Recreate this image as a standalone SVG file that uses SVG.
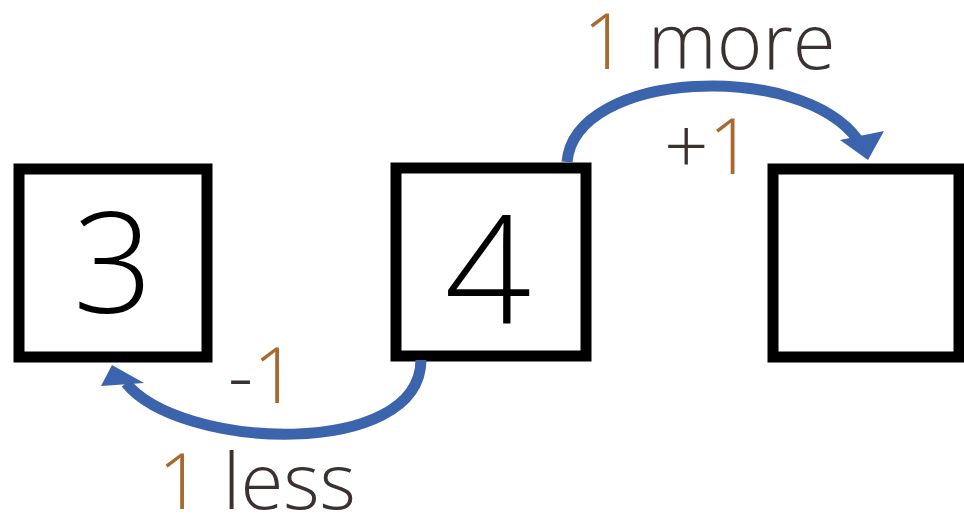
<svg xmlns="http://www.w3.org/2000/svg" width="964" height="517" viewBox="0 0 964 517">
<style>
.box{fill:#fff;stroke:#000;stroke-width:11}
.num{font-family:"Open Sans","Liberation Sans",Arial,sans-serif;font-weight:300;font-size:140px;fill:#000;text-anchor:middle}
.lbl{font-family:"Open Sans","Liberation Sans",Arial,sans-serif;font-weight:300;font-size:78px;fill:#3b3131}
.one{fill:#a8692e}
.arc{fill:none;stroke:#3c64ad;stroke-width:11}
.head{fill:#3c64ad}
</style>
<rect width="964" height="517" fill="#fff"/>
<g id="node-3">
<rect class="box" x="19" y="169" width="188" height="188"/>
<text class="num" x="113" y="313">3</text>
</g>
<g id="node-4">
<rect class="box" x="396" y="168" width="190" height="188"/>
<text class="num" x="488" y="324" style="font-size:152px">4</text>
</g>
<g id="node-empty">
<rect class="box" x="773" y="169" width="186" height="188"/>
</g>
<g id="connectors">
<path class="arc" d="M567,162 C575,70 800,60 858,140"/>
<polygon class="head" points="868,160 840,140 884,131"/>
<path class="arc" d="M421,360 C420,460 180,450 126,383"/>
<polygon class="head" points="112,365 101,386 144,383"/>
</g>
<g id="labels">
<text class="lbl" x="583" y="69"><tspan class="one">1</tspan> more</text>
<text class="lbl" x="664" y="174">+<tspan class="one">1</tspan></text>
<text class="lbl" x="228" y="403">-<tspan class="one">1</tspan></text>
<text class="lbl" x="158" y="509"><tspan class="one">1</tspan> less</text>
</g>
</svg>
